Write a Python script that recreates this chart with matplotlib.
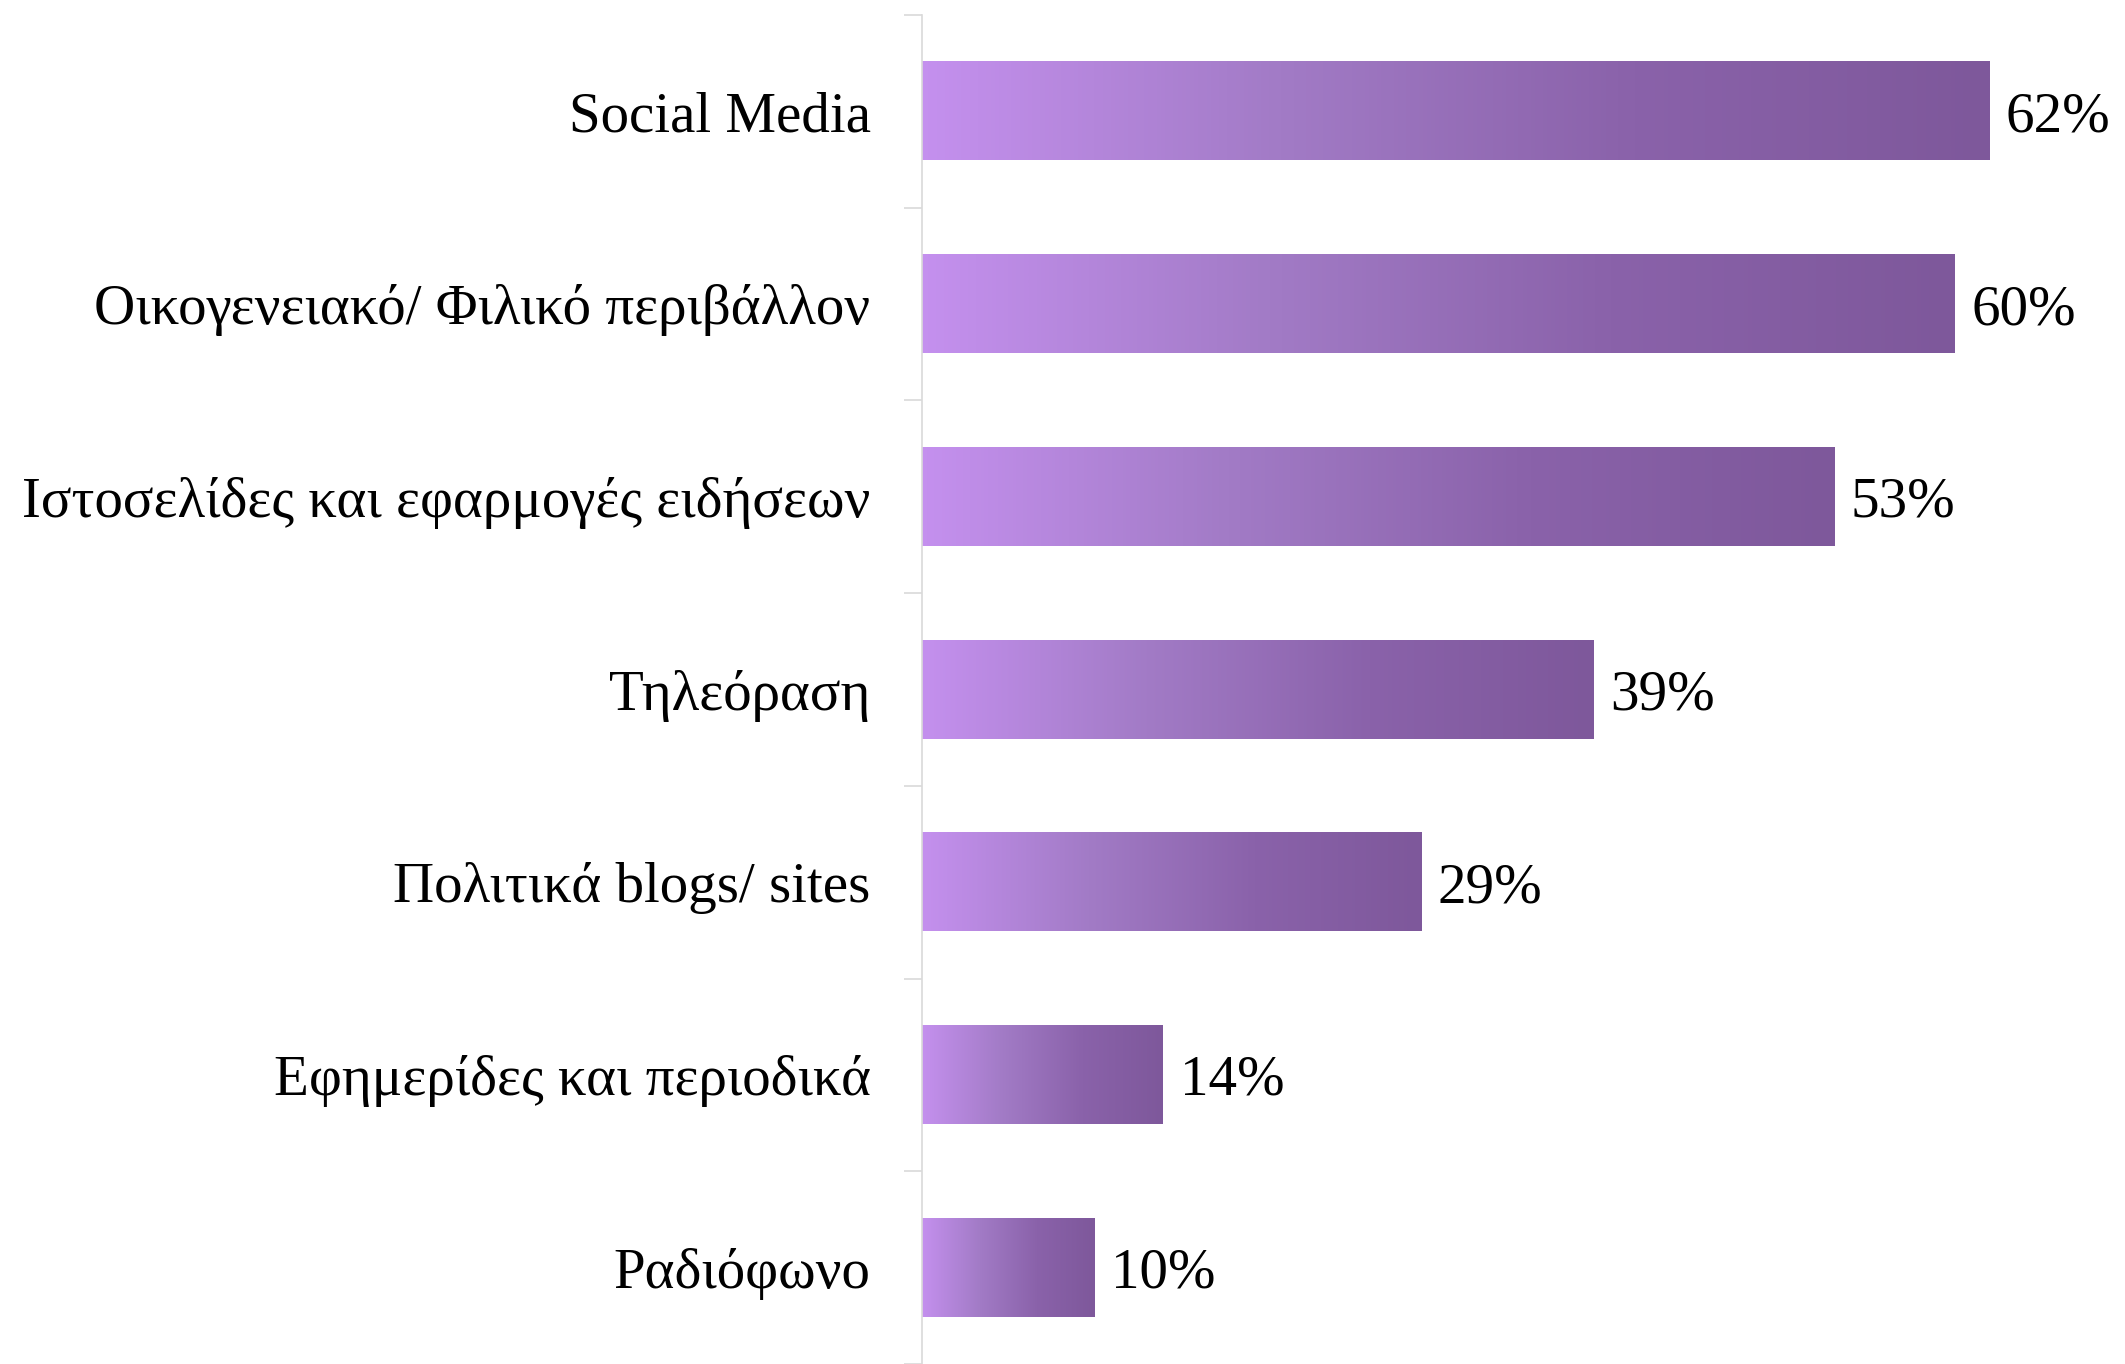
import numpy as np
import matplotlib.pyplot as plt
from matplotlib.colors import LinearSegmentedColormap
from matplotlib.ticker import FixedLocator

plt.rcParams['font.family'] = ['Liberation Serif', 'DejaVu Serif']

categories = ['Social Media', 'Οικογενειακό/ Φιλικό περιβάλλον',
              'Ιστοσελίδες και εφαρμογές ειδήσεων', 'Τηλεόραση',
              'Πολιτικά blogs/ sites', 'Εφημερίδες και περιοδικά', 'Ραδιόφωνο']
values = [62, 60, 53, 39, 29, 14, 10]

cmap = LinearSegmentedColormap.from_list('purp', ['#C490EE', '#A27BC6', '#8A62AA', '#7E589B'])
grad = np.linspace(0, 1, 256).reshape(1, -1)

fig = plt.figure(figsize=(21.25, 13.64), dpi=100)
ax = fig.add_axes([922 / 2125, 0.0, 1 - 922 / 2125, 1 - 15 / 1364])

bh = 0.51
for i, v in enumerate(values):
    ax.imshow(grad, cmap=cmap, aspect='auto', interpolation='bicubic',
              extent=[0, v, i + bh / 2, i - bh / 2], zorder=2)
    ax.annotate(f'{v}%', xy=(v, i), xytext=(12, 0), textcoords='offset points',
                va='center_baseline', ha='left', fontsize=41, color='black')

ax.set_xlim(0, 69.9)
ax.set_ylim(len(values) - 0.5, -0.5)
ax.set_yticks(range(len(values)))
ax.set_yticklabels(categories, fontsize=41)
ax.yaxis.set_minor_locator(FixedLocator(np.arange(-0.5, len(values), 1)))
ax.tick_params(axis='y', which='major', length=0, pad=37)
ax.tick_params(axis='y', which='minor', length=13, width=1.2, color='#D9D9D9')
ax.set_xticks([])
for s in ['top', 'right', 'bottom']:
    ax.spines[s].set_visible(False)
ax.spines['left'].set_color('#D9D9D9')
ax.spines['left'].set_linewidth(1.2)

plt.savefig('out.png', dpi=100)
